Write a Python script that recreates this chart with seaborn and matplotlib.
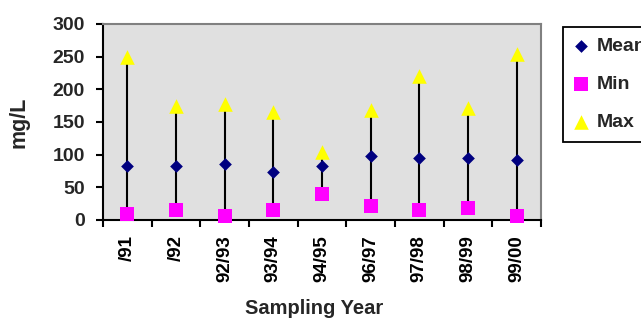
import matplotlib
matplotlib.use("Agg")
import matplotlib.pyplot as plt
import seaborn as sns
import pandas as pd
from matplotlib.ticker import FixedLocator, NullFormatter

years = ["/91", "/92", "92/93", "93/94", "94/95", "96/97", "97/98", "98/99", "99/00"]
mean_vals = [83, 83, 86, 74, 83, 98, 95, 95, 92]
min_vals = [9, 15, 6, 15, 40, 21, 15, 18, 6]
max_vals = [250, 175, 178, 165, 104, 168, 220, 172, 254]
y_ticks = [0, 50, 100, 150, 200, 250, 300]

df = pd.DataFrame({"year": years, "Mean": mean_vals, "Min": min_vals, "Max": max_vals})

sns.set_theme(style="white")
plt.rcParams["font.family"] = ["Liberation Sans", "DejaVu Sans"]
plt.rcParams["font.weight"] = "bold"

fig = plt.figure(figsize=(6.41, 3.23), dpi=100)
ax = fig.add_axes([103 / 641, 1 - 220 / 323, 438 / 641, 196 / 323])
ax.set_facecolor("#E0E0E0")

# hi-lo lines
ax.vlines(df["year"], df["Min"], df["Max"], colors="black", linewidth=1.5, zorder=2)

sns.scatterplot(data=df, x="year", y="Mean", marker="D", s=42, color="#000080",
                linewidth=0, label="Mean", ax=ax, zorder=4, clip_on=False)
sns.scatterplot(data=df, x="year", y="Min", marker="s", s=115, color="#FF00FF",
                linewidth=0, label="Min", ax=ax, zorder=3, clip_on=False)
sns.scatterplot(data=df, x="year", y="Max", marker="^", s=110, color="#FFFF00",
                linewidth=0, label="Max", ax=ax, zorder=3, clip_on=False)

ax.set_xlim(-0.5, len(years) - 0.5)
ax.set_ylim(0, 300)
ax.set_yticks(y_ticks)
ax.set_yticklabels([str(v) for v in y_ticks], fontsize=14, fontweight="bold")

ax.set_xticks(range(len(years)))
ax.set_xticklabels(years, rotation=90, fontsize=13.5, fontweight="bold")
ax.xaxis.set_minor_locator(FixedLocator([i - 0.5 for i in range(len(years) + 1)]))
ax.xaxis.set_minor_formatter(NullFormatter())
ax.tick_params(axis="x", which="major", length=0, pad=11, colors="black")
ax.tick_params(axis="x", which="minor", length=5, width=1.5, direction="out",
               color="black", bottom=True)
ax.tick_params(axis="y", which="major", length=5, width=1.5, direction="out",
               pad=8, color="black", left=True)

for side in ["left", "bottom"]:
    ax.spines[side].set_color("black")
    ax.spines[side].set_linewidth(1.5)
for side in ["top", "right"]:
    ax.spines[side].set_color("#808080")
    ax.spines[side].set_linewidth(1.5)

ax.set_ylabel("mg/L", fontsize=15.5, fontweight="bold")
ax.yaxis.set_label_coords(-0.168, 0.5)
ax.set_xlabel("Sampling Year", fontsize=14.5, fontweight="bold")
ax.xaxis.set_label_coords(0.483, -0.405)

handles, labels = ax.get_legend_handles_labels()
if ax.legend_:
    ax.legend_.remove()
leg = fig.legend(handles, labels, loc="upper left",
                 bbox_to_anchor=(563 / 641, 1 - 27 / 323), borderaxespad=0,
                 frameon=True, fancybox=False, framealpha=1, edgecolor="black",
                 prop={"size": 14, "weight": "bold"}, labelspacing=1.05,
                 handlelength=0.8, handletextpad=0.4, borderpad=0.55)
leg.get_frame().set_linewidth(1.3)

fig.savefig("out.png", dpi=100)
